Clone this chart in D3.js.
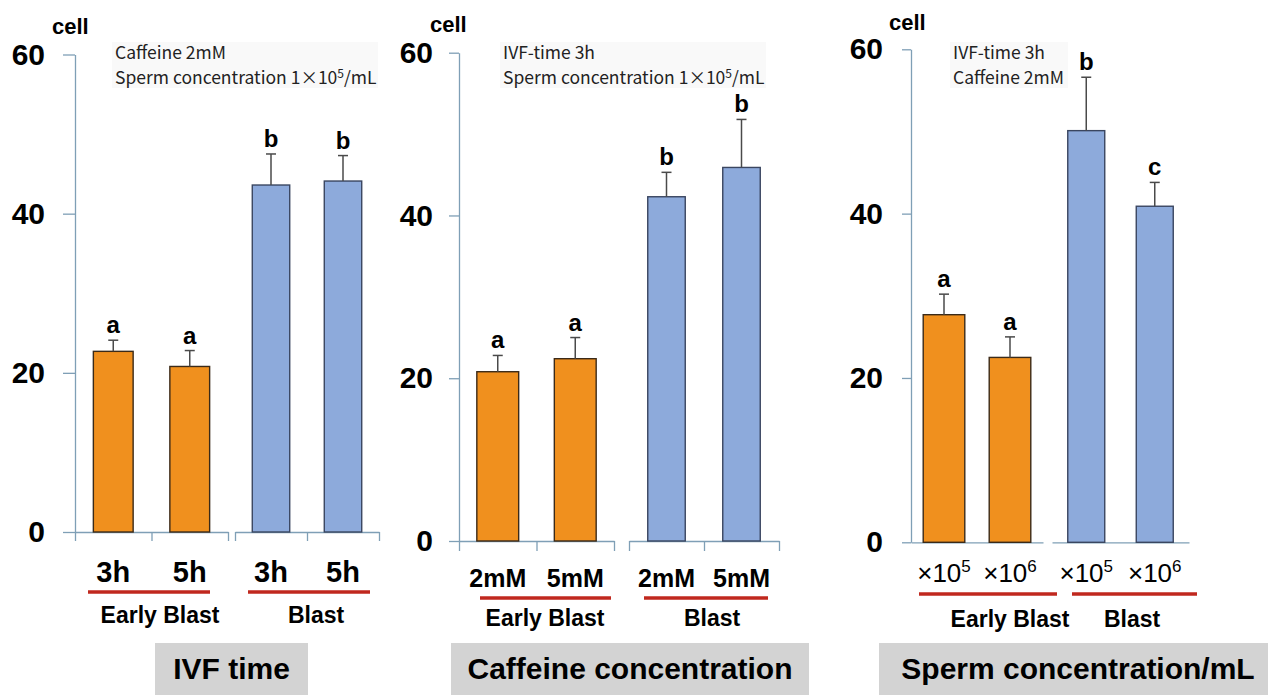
<!DOCTYPE html>
<html>
<head>
<meta charset="utf-8">
<script src="https://cdn.jsdelivr.net/npm/d3@7/dist/d3.min.js"></script>
<style>
  html, body { margin: 0; padding: 0; background: #fff; }
  svg { display: block; }
</style>
</head>
<body>
<svg id="chart" width="1271" height="695"></svg>
<script>
// ---------------- DATA ----------------
const yTicks = [0, 20, 40, 60];
const groupNames = ["Early Blast", "Blast"];

const ivfCategories = ["3h", "5h", "3h", "5h"];
const ivfMeans = [22.7, 20.8, 43.6, 44.1];
const ivfErrors = [1.4, 2.0, 3.9, 3.2];
const ivfLetters = ["a", "a", "b", "b"];

const caffeineCategories = ["2mM", "5mM", "2mM", "5mM"];
const caffeineMeans = [20.8, 22.4, 42.3, 45.9];
const caffeineErrors = [2.0, 2.6, 3.0, 5.9];
const caffeineLetters = ["a", "a", "b", "b"];

const spermCategories = ["×10^5", "×10^6", "×10^5", "×10^6"];
const spermMeans = [27.7, 22.5, 50.1, 40.9];
const spermErrors = [2.5, 2.5, 6.5, 2.9];
const spermLetters = ["a", "a", "b", "c"];

const panelTitles = ["IVF time", "Caffeine concentration", "Sperm concentration/mL"];
const panelNotes = [
  ["Caffeine 2mM", "Sperm concentration 1×10^5/mL"],
  ["IVF-time 3h", "Sperm concentration 1×10^5/mL"],
  ["IVF-time 3h", "Caffeine 2mM"]
];
const yAxisLabel = "cell";

// ---------------- LAYOUT ----------------
const layouts = [
  { axisX: 75, y0: 532, yTop: 54.5, tickSize: 12, tickPad: 18,
    groups: [[75, 228], [235, 379]], pads: [0.48, 0.48], xTick: 9,
    catFont: 29, catY: 582, lineY: 592, lines: [[88, 210], [248, 370]],
    groupX: [160, 316], groupY: 623, cellX: 52, cellY: 34,
    noteX: 115, noteBox: [112, 42, 266, 46], box: [155, 308], titleX: 231.5 },
  { axisX: 459, y0: 541, yTop: 52.7, tickSize: 10, tickPad: 16,
    groups: [[459, 614], [629, 779]], pads: [0.46, 0.5], xTick: 10,
    catFont: 25, catY: 587, lineY: 598, lines: [[480, 611], [644, 768]],
    groupX: [545, 712], groupY: 626, cellX: 430, cellY: 32,
    noteX: 503, noteBox: [500, 42, 266, 46], box: [451, 809], titleX: 630 },
  { axisX: 911, y0: 542.3, yTop: 49.3, tickSize: 9, tickPad: 19,
    groups: [[911, 1043], [1052, 1189]], pads: [0.37, 0.46], xTick: 0,
    catFont: 26, catY: 582, lineY: 594, lines: [[919, 1057], [1072, 1197]],
    groupX: [1010, 1132], groupY: 627, cellX: 889, cellY: 30,
    noteX: 953, noteBox: [950, 42, 118, 46], box: [879, 1268], titleX: 1078 }
];

const panels = [
  { cats: ivfCategories, means: ivfMeans, errs: ivfErrors, letters: ivfLetters },
  { cats: caffeineCategories, means: caffeineMeans, errs: caffeineErrors, letters: caffeineLetters },
  { cats: spermCategories, means: spermMeans, errs: spermErrors, letters: spermLetters }
];

const groupColors = ["#F0901E", "#8DAADB"];
const groupStrokes = ["#3b2a18", "#3a4660"];
const axisColor = "#7f9fb6";
const underlineColor = "#c0281e";
const FONT = "'Liberation Sans', Arial, sans-serif";
const NOTE_FONT = "'Noto Sans CJK JP', 'Noto Sans', sans-serif";

const svg = d3.select("#chart");

function writeSup(textSel, str, supSize, supDy) {
  const parts = str.split("^");
  textSel.append("tspan").text(parts[0]);
  if (parts.length > 1) {
    const m = parts[1].match(/^(\d+)(.*)$/);
    textSel.append("tspan").attr("dy", -supDy).attr("font-size", supSize).text(m[1]);
    if (m[2]) textSel.append("tspan").attr("dy", supDy).text(m[2]);
  }
}

panels.forEach((p, pi) => {
  const L = layouts[pi];
  const g = svg.append("g");
  const y = d3.scaleLinear().domain([0, 60]).range([L.y0, L.yTop]);

  // annotation background + notes
  g.append("rect")
    .attr("x", L.noteBox[0]).attr("y", L.noteBox[1])
    .attr("width", L.noteBox[2]).attr("height", L.noteBox[3])
    .attr("fill", "#f9f9f9");
  panelNotes[pi].forEach((n, i) => {
    const t = g.append("text")
      .attr("x", L.noteX).attr("y", 59 + i * 24.5)
      .attr("font-family", NOTE_FONT).attr("font-size", 17.5)
      .attr("font-weight", 400)
      .attr("fill", "#222");
    writeSup(t, n, 12, 6);
  });

  // y axis
  const yAxis = d3.axisLeft(y).tickValues(yTicks).tickSize(L.tickSize)
    .tickSizeOuter(0).tickPadding(L.tickPad).tickFormat(d3.format("d"));
  const ya = g.append("g").attr("transform", `translate(${L.axisX},0)`).call(yAxis);
  ya.select(".domain").attr("stroke", axisColor).attr("stroke-width", 1.3);
  ya.selectAll(".tick line").attr("stroke", axisColor).attr("stroke-width", 1.3);
  ya.selectAll(".tick text").attr("font-family", FONT).attr("font-size", 30)
    .attr("font-weight", "bold").attr("fill", "#000");

  // cell label
  g.append("text").attr("x", L.cellX).attr("y", L.cellY)
    .attr("font-family", FONT).attr("font-size", 22).attr("font-weight", "bold")
    .text(yAxisLabel);

  // groups
  groupNames.forEach((gn, gi) => {
    const [gx0, gx1] = L.groups[gi];
    const idx = [gi * 2, gi * 2 + 1];
    const pad = L.pads[gi];
    const xb = d3.scaleBand().domain(idx).range([gx0, gx1])
      .paddingInner(pad).paddingOuter(pad / 2);
    const xl = d3.scaleLinear().domain([0, 2]).range([gx0, gx1]);

    // x axis segment
    const xAxis = d3.axisBottom(xl).tickValues([0, 1, 2]).tickSize(L.xTick)
      .tickSizeOuter(0).tickFormat("");
    const xa = g.append("g").attr("transform", `translate(0,${L.y0})`).call(xAxis);
    xa.select(".domain").attr("stroke", axisColor).attr("stroke-width", 1.3);
    xa.selectAll(".tick line").attr("stroke", axisColor).attr("stroke-width", 1.3);

    // bars
    g.selectAll(null).data(idx).enter().append("rect")
      .attr("x", d => xb(d))
      .attr("width", xb.bandwidth())
      .attr("y", d => y(p.means[d]))
      .attr("height", d => y(0) - y(p.means[d]))
      .attr("fill", groupColors[gi])
      .attr("stroke", groupStrokes[gi]).attr("stroke-width", 1.4);

    // error bars
    const cx = d => xb(d) + xb.bandwidth() / 2;
    g.selectAll(null).data(idx).enter().append("line")
      .attr("x1", cx).attr("x2", cx)
      .attr("y1", d => y(p.means[d])).attr("y2", d => y(p.means[d] + p.errs[d]))
      .attr("stroke", "#4a4a4a").attr("stroke-width", 1.5);
    g.selectAll(null).data(idx).enter().append("line")
      .attr("x1", d => cx(d) - 5).attr("x2", d => cx(d) + 5)
      .attr("y1", d => y(p.means[d] + p.errs[d])).attr("y2", d => y(p.means[d] + p.errs[d]))
      .attr("stroke", "#4a4a4a").attr("stroke-width", 1.5);

    // significance letters
    g.selectAll(null).data(idx).enter().append("text")
      .attr("x", cx).attr("y", d => y(p.means[d] + p.errs[d]) - 7)
      .attr("text-anchor", "middle")
      .attr("font-family", FONT).attr("font-size", 24).attr("font-weight", "bold")
      .text(d => p.letters[d]);

    // category labels
    idx.forEach(d => {
      const t = g.append("text")
        .attr("x", cx(d)).attr("y", L.catY)
        .attr("text-anchor", "middle")
        .attr("font-family", FONT).attr("font-size", L.catFont)
        .attr("font-weight", pi === 2 ? "normal" : "bold");
      writeSup(t, p.cats[d], 17, 10);
    });

    // red underline
    g.append("line")
      .attr("x1", L.lines[gi][0]).attr("x2", L.lines[gi][1])
      .attr("y1", L.lineY).attr("y2", L.lineY)
      .attr("stroke", underlineColor).attr("stroke-width", 3.5);

    // group name
    g.append("text")
      .attr("x", L.groupX[gi]).attr("y", L.groupY)
      .attr("text-anchor", "middle")
      .attr("font-family", FONT).attr("font-size", 23).attr("font-weight", "bold")
      .text(gn);
  });

  // title box
  g.append("rect")
    .attr("x", L.box[0]).attr("y", 643)
    .attr("width", L.box[1] - L.box[0]).attr("height", 52)
    .attr("fill", "#d3d3d3");
  g.append("text")
    .attr("x", L.titleX).attr("y", 679)
    .attr("text-anchor", "middle")
    .attr("font-family", FONT).attr("font-size", 30).attr("font-weight", "bold")
    .text(panelTitles[pi]);
});
</script>
</body>
</html>
